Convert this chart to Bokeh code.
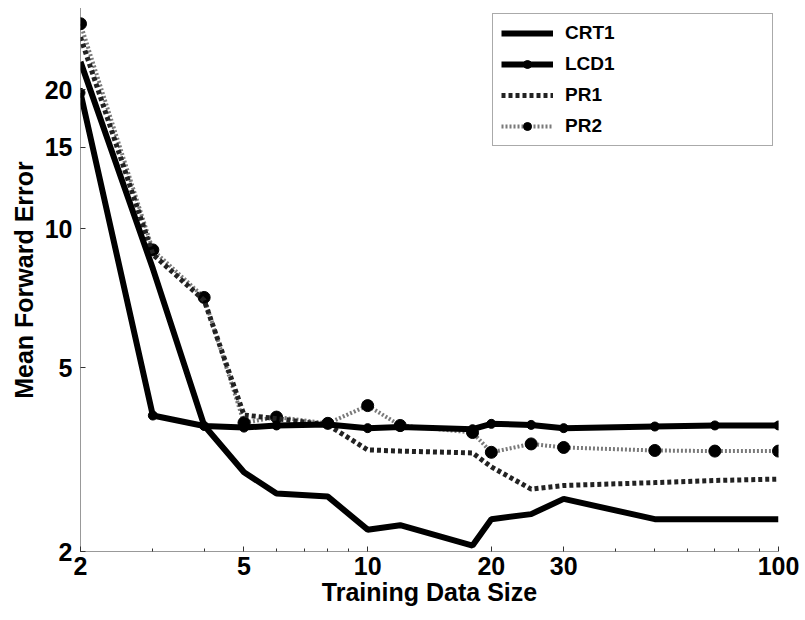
from bokeh.plotting import figure
from bokeh.models import Range1d, FixedTicker, CustomJSTickFormatter, Legend, LegendItem
from bokeh.embed import file_html
from bokeh.resources import INLINE

# Data (log-log axes)
sizes = [2, 3, 4, 5, 6, 8, 10, 12, 18, 20, 25, 30, 50, 70, 100]
crt1 = [23.0, 8.2, 3.75, 2.97, 2.67, 2.63, 2.23, 2.28, 2.06, 2.35, 2.41, 2.60, 2.35, 2.35, 2.35]
lcd1 = [19.7, 3.94, 3.74, 3.71, 3.75, 3.77, 3.70, 3.72, 3.68, 3.78, 3.76, 3.70, 3.73, 3.75, 3.75]
pr1 = [26.0, 8.8, 7.0, 3.95, 3.88, 3.76, 3.32, 3.30, 3.27, 3.05, 2.73, 2.78, 2.82, 2.85, 2.87]
pr2 = [27.8, 9.0, 7.1, 3.80, 3.91, 3.79, 4.14, 3.75, 3.62, 3.28, 3.42, 3.36, 3.31, 3.30, 3.30]

x_ticks = [2, 5, 10, 20, 30, 100]
x_minor = [3, 4, 6, 7, 8, 9, 40, 50, 60, 70, 80, 90]
y_ticks = [2, 5, 10, 15, 20]

FONT = "Liberation Sans"

p = figure(width=805, height=620, x_axis_type="log", y_axis_type="log",
           x_range=Range1d(2, 100), y_range=Range1d(2, 30),
           output_backend="svg", toolbar_location=None,
           min_border_left=80, min_border_right=27, min_border_top=8, min_border_bottom=69)
p.outline_line_color = None
p.grid.visible = False
p.background_fill_color = "white"

# series
r_pr2 = p.line(sizes, pr2, line_color="#7a7a7a", line_width=4, line_dash="2 2")
r_pr2m = p.scatter(sizes, pr2, marker="circle", size=12, color="black")
r_pr1 = p.line(sizes, pr1, line_color="#222222", line_width=5, line_dash="4 3")
r_lcd = p.line(sizes, lcd1, line_color="black", line_width=6)
r_lcdm = p.scatter(sizes, lcd1, marker="circle", size=9, color="black")
r_crt = p.line(sizes, crt1, line_color="black", line_width=6)

# axes
p.xaxis.ticker = FixedTicker(ticks=x_ticks, minor_ticks=x_minor)
p.yaxis.ticker = FixedTicker(ticks=y_ticks, minor_ticks=[])
fmt = "return tick.toString();"
p.xaxis.formatter = CustomJSTickFormatter(code=fmt)
p.yaxis.formatter = CustomJSTickFormatter(code=fmt)
p.xaxis.axis_label = "Training Data Size"
p.yaxis.axis_label = "Mean Forward Error"
for ax in (p.xaxis[0], p.yaxis[0]):
    ax.axis_line_color = "#333333"
    ax.axis_line_width = 1
    ax.axis_line_dash = "1 1"
    ax.major_tick_in = 5
    ax.major_tick_out = 0
    ax.minor_tick_in = 3
    ax.minor_tick_out = 0
    ax.major_tick_line_color = "#333333"
    ax.minor_tick_line_color = "#333333"
    ax.major_label_text_font = FONT
    ax.major_label_text_font_style = "bold"
    ax.major_label_text_font_size = "25px"
    ax.major_label_text_color = "black"
    ax.axis_label_text_font = FONT
    ax.axis_label_text_font_style = "bold"
    ax.axis_label_text_font_size = "25px"
    ax.axis_label_text_color = "black"
p.xaxis.major_label_standoff = 5
p.yaxis.major_label_standoff = 8
p.xaxis.axis_label_standoff = 0
p.yaxis.axis_label_standoff = 4

legend = Legend(items=[
    LegendItem(label="CRT1", renderers=[r_crt]),
    LegendItem(label="LCD1", renderers=[r_lcd, r_lcdm]),
    LegendItem(label="PR1", renderers=[r_pr1]),
    LegendItem(label="PR2", renderers=[r_pr2, r_pr2m]),
], location="top_right", margin=5, padding=8, spacing=9,
    glyph_width=52, glyph_height=20, label_height=20, label_width=199,
    label_standoff=12, label_text_font=FONT, label_text_font_style="bold",
    label_text_font_size="19px", label_text_color="black",
    border_line_color="#555555", border_line_width=1,
    background_fill_alpha=1.0)
p.add_layout(legend)

open("out.html", "w").write(file_html(p, INLINE))
